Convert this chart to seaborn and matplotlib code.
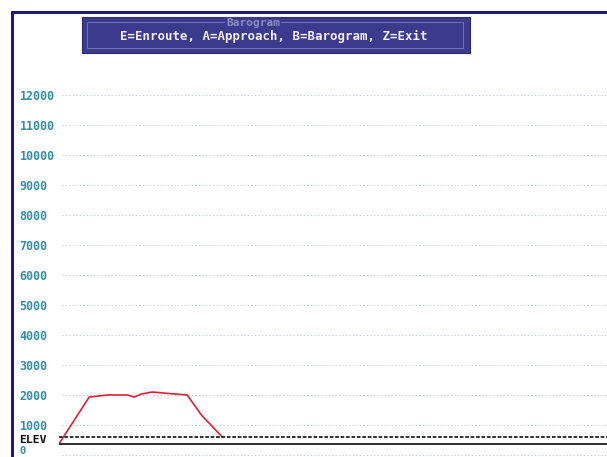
import matplotlib
matplotlib.use("Agg")
import matplotlib.pyplot as plt
import matplotlib.patches as patches
import matplotlib.lines as mlines
import seaborn as sns
import pandas as pd

# barogram trace (time in minutes, altitude in feet)
minutes = [0, 5.5, 8.8, 12.5, 13.7, 15.0, 17.0, 20.0, 23.4, 26.0, 29.8]
altitude = [370, 1930, 2000, 2000, 1930, 2030, 2100, 2050, 2000, 1330, 600]

# reference lines
elev_dashed = 600
elev_solid = 370

alt_ticks = [1000, 2000, 3000, 4000, 5000, 6000, 7000, 8000, 9000, 10000, 11000, 12000]
alt_labels = ["1000", "2000", "3000", "4000", "5000", "6000", "7000", "8000", "9000", "10000", "11000", "12000"]

menu_title = "Barogram"
menu_text = "E=Enroute, A=Approach, B=Barogram, Z=Exit"

sns.set_style("white")
plt.rcParams["font.family"] = ["DejaVu Sans Mono", "DejaVu Sans"]

W, H = 607, 457
fig = plt.figure(figsize=(W / 100, H / 100), dpi=100)
fig.patch.set_facecolor("white")

# axes: left edge at x=59px, top at y=60px, bottom at figure bottom
ax = fig.add_axes([59 / W, 0, 1 - 59 / W, (H - 60) / H])
teal = "#2f8fa6"

df = pd.DataFrame({"minutes": minutes, "altitude": altitude})
sns.lineplot(data=df, x="minutes", y="altitude", color="#e0203a", linewidth=1.2, ax=ax)

# dotted grid at each thousand
for t in [0] + alt_ticks:
    ax.axhline(t, xmin=0.005, color="#b8c6d0", linestyle=(0, (1.2, 2.4)), linewidth=0.7, zorder=0)

ax.axhline(elev_dashed, color="#202020", linestyle=(0, (2, 1)), linewidth=1.3)
ax.axhline(elev_solid, color="#202020", linestyle="-", linewidth=1.3)

ax.set_xlim(0, 100)
ax.set_ylim(-67, 13167)
ax.set_yticks(alt_ticks)
ax.set_yticklabels(alt_labels)
ax.set_xticks([])
ax.tick_params(axis="y", length=0, pad=28.5, labelsize=8.4, labelcolor=teal)
for lab in ax.get_yticklabels():
    lab.set_horizontalalignment("left")
    lab.set_fontweight("bold")
ax.set_xlabel("")
ax.set_ylabel("")
for s in ax.spines.values():
    s.set_visible(False)

# ELEV and 0 labels
fig.text(19 / W, 1 - 440 / H, "ELEV", color="#111111", fontsize=8.2, fontweight="bold",
         ha="left", va="center")
fig.text(19 / W, 1 - 450.5 / H, "0", color=teal, fontsize=7.6, fontweight="bold",
         ha="left", va="center")

# screen border (dark blue)
navy = "#1c1c78"
fig.add_artist(mlines.Line2D([12 / W, 12 / W], [0, 1 - 12 / H], color=navy, linewidth=2.2))
fig.add_artist(mlines.Line2D([12 / W, 1], [1 - 12 / H, 1 - 12 / H], color=navy, linewidth=2.2))

# menu box
box_col = "#3b3a8c"
fig.add_artist(patches.Rectangle((82 / W, 1 - 53 / H), 388 / W, 36 / H,
                                 facecolor=box_col, edgecolor="#2a2a70", linewidth=0.8))
fig.add_artist(patches.Rectangle((87 / W, 1 - 48 / H), 376 / W, 26 / H,
                                 facecolor="none", edgecolor="#7474b0", linewidth=0.7))
fig.text(253 / W, 1 - 23 / H, menu_title, color="#8e8ec4", fontsize=8, fontweight="bold",
         ha="center", va="center",
         bbox=dict(facecolor=box_col, edgecolor="none", pad=1.0))
fig.text(274 / W, 1 - 36 / H, menu_text, color="#f4f0ff", fontsize=8.9, fontweight="bold",
         ha="center", va="center")

fig.savefig("out.png", dpi=100)
